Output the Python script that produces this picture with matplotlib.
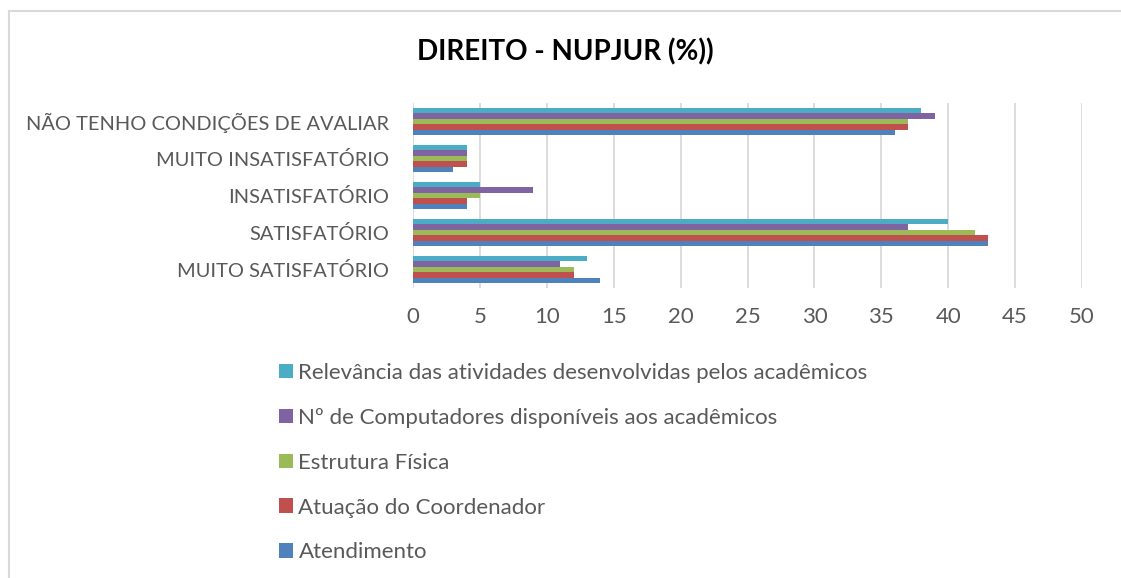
import numpy as np
from matplotlib import pyplot as plt
from matplotlib.patches import Rectangle

categories = ["MUITO SATISFATÓRIO", "SATISFATÓRIO", "INSATISFATÓRIO",
              "MUITO INSATISFATÓRIO", "NÃO TENHO CONDIÇÕES DE AVALIAR"]
series = ["Atendimento", "Atuação do Coordenador", "Estrutura Física",
          "Nº de Computadores disponíveis aos acadêmicos",
          "Relevância das atividades desenvolvidas pelos acadêmicos"]
atendimento = [14, 43, 4, 3, 36]
atuacao = [12, 43, 4, 4, 37]
estrutura = [12, 42, 5, 4, 37]
computadores = [11, 37, 9, 4, 39]
relevancia = [13, 40, 5, 4, 38]
colors = ['#4F81BD', '#C0504D', '#9BBB59', '#8064A2', '#4BACC6']

plt.rcParams['font.family'] = ['Lato', 'DejaVu Sans']
W, H = 1121, 578
fig = plt.figure(figsize=(W/100, H/100), dpi=100)
# chart border (cut off at right and bottom like the screenshot)
fig.patches.append(Rectangle((9/W, -0.1), 1.2, 1 - 11/H + 0.1, transform=fig.transFigure,
                             fill=False, ec='#D9D9D9', lw=1.5))

ax = fig.add_axes([413/W, 1 - 288/H, (1082-413)/W, (288-103)/H])
y = np.arange(len(categories))
h = 0.146
vals = [atendimento, atuacao, estrutura, computadores, relevancia]
bars = []
for i, v in enumerate(vals):
    b = ax.barh(y + (i - 2) * h, v, height=h, color=colors[i], label=series[i], zorder=3)
    bars.append(b)

ax.set_xlim(0, 50)
ax.set_ylim(-0.5, 4.5)
ax.set_xticks(range(0, 51, 5))
ax.set_yticks(y)
ax.set_yticklabels(categories)
ax.grid(axis='x', color='#D9D9D9', lw=1.3, zorder=0)
for s in ax.spines.values():
    s.set_visible(False)
ax.tick_params(axis='both', length=0, colors='#595959')
ax.tick_params(axis='y', pad=17, labelsize=14.4)
ax.tick_params(axis='x', pad=14, labelsize=16)

fig.text(565/W, 1 - 52/H, "DIREITO - NUPJUR (%))", ha='center', va='center',
         fontsize=20, fontweight='bold', color='black')

leg = fig.legend(bars[::-1], series[::-1], loc='upper left', bbox_to_anchor=(270/W, 1 - 354/H),
                 frameon=False, fontsize=16, labelcolor='#595959', handlelength=0.63,
                 handleheight=0.63, handletextpad=0.25, labelspacing=1.12, borderaxespad=0)

fig.savefig('out.png', dpi=100)
